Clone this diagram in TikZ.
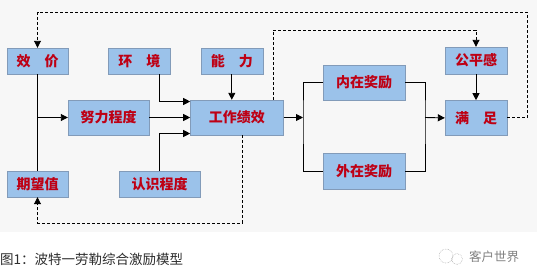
\documentclass[tikz,border=0pt]{standalone}
\usepackage{fontspec}
\newfontfamily\cjk{Noto Sans CJK SC}
\usetikzlibrary{arrows.meta,positioning,calc}
\definecolor{bgcol}{RGB}{247,247,247}
\definecolor{boxfill}{RGB}{155,194,234}
\definecolor{boxline}{RGB}{130,155,185}
\definecolor{boxred}{RGB}{190,0,20}
\definecolor{captxt}{RGB}{45,45,45}
\begin{document}
\begin{tikzpicture}[x=1pt,y=-1pt,
  >={Triangle[length=7pt,width=7pt]},
  box/.style={draw=boxline,fill=boxfill,text=boxred,inner sep=0pt,
    minimum width=62pt,minimum height=26pt,font=\cjk\bfseries\fontsize{14}{14}\selectfont},
  wbox/.style={box,minimum width=81pt,minimum height=35pt},
  line/.style={draw,line width=0.9pt},
  fb/.style={line,dashed,dash pattern=on 3pt off 2pt},
  lab/.style={font=\cjk\fontsize{13.5}{14}\selectfont,text=captxt,inner sep=0pt}]
\useasboundingbox (0,0) rectangle (553,273);
\fill[bgcol] (0,0) rectangle (537,232);
\node[box,minimum width=61pt] (xj) at (37.5,61) {效\quad 价};
\node[box, right=40pt of xj] (hj) {环\quad 境};
\node[box, right=30pt of hj] (nl) {能\quad 力};
\node[box,minimum width=61pt] (qw) at (37.5,184) {期望值};
\node[wbox] (nlcd) at (108.5,117.5) {努力程度};
\node[wbox,minimum width=93pt, right=41pt of nlcd] (gz) {工作绩效};
\node[wbox,minimum height=26pt] (rs) at (159.5,184) {认识程度};
\node[wbox,minimum width=82pt] (nz) at (364,82.5) {内在奖励};
\node[wbox,minimum width=82pt,minimum height=36pt, below=53pt of nz] (wz) {外在奖励};
\node[box,minimum height=27pt] (gp) at (476,60.5) {公平感};
\node[wbox,minimum width=62pt, below=26pt of gp] (mz) {满\quad 足};
\coordinate (sp) at (303,117.5);
\coordinate (jn) at (425,117.5);
\coordinate (t1) at (273,30);
\coordinate (t2) at (527,12);
\coordinate (t3) at (242,223);
\draw[line] (xj.south) -- (qw.north);
\draw[line,->] (xj.south |- nlcd.west) -- (nlcd.west);
\draw[line,->] (hj.south -| rs.north) |- ($(gz.west)+(0,-16)$);
\draw[line,->] (nlcd.east) -- (gz.west);
\draw[line,->] (rs.north) |- ($(gz.west)+(0,16)$);
\draw[line,->] (nl.south) -- (nl.south |- gz.north);
\draw[line,->] (gz.east) -- (sp);
\draw[line] (nz.west) -| (sp) |- (wz.west);
\draw[line] (nz.east) -| (jn) |- (wz.east);
\draw[line,->] (jn) -- (mz.west);
\draw[line,->] (gp.south) -- (mz.north);
\draw[fb,->] (gz.north -| t1) -- (t1) -| (gp.north);
\draw[fb,->] (mz.east) -| (t2) -| (xj.north);
\draw[fb,->] (gz.south -| t3) -- (t3) -| (qw.south);
\node[lab,anchor=west] (cap) at (0,259) {图1：波特一劳勒综合激励模型};
\node[lab,text=gray,font=\cjk\fontsize{12.5}{13}\selectfont] (wx) at (494,257) {客户世界};
\draw[gray!60,line width=0.6pt,densely dotted] (446,256) circle[radius=7pt] (457,259) circle[radius=5.5pt];
\end{tikzpicture}
\end{document}
